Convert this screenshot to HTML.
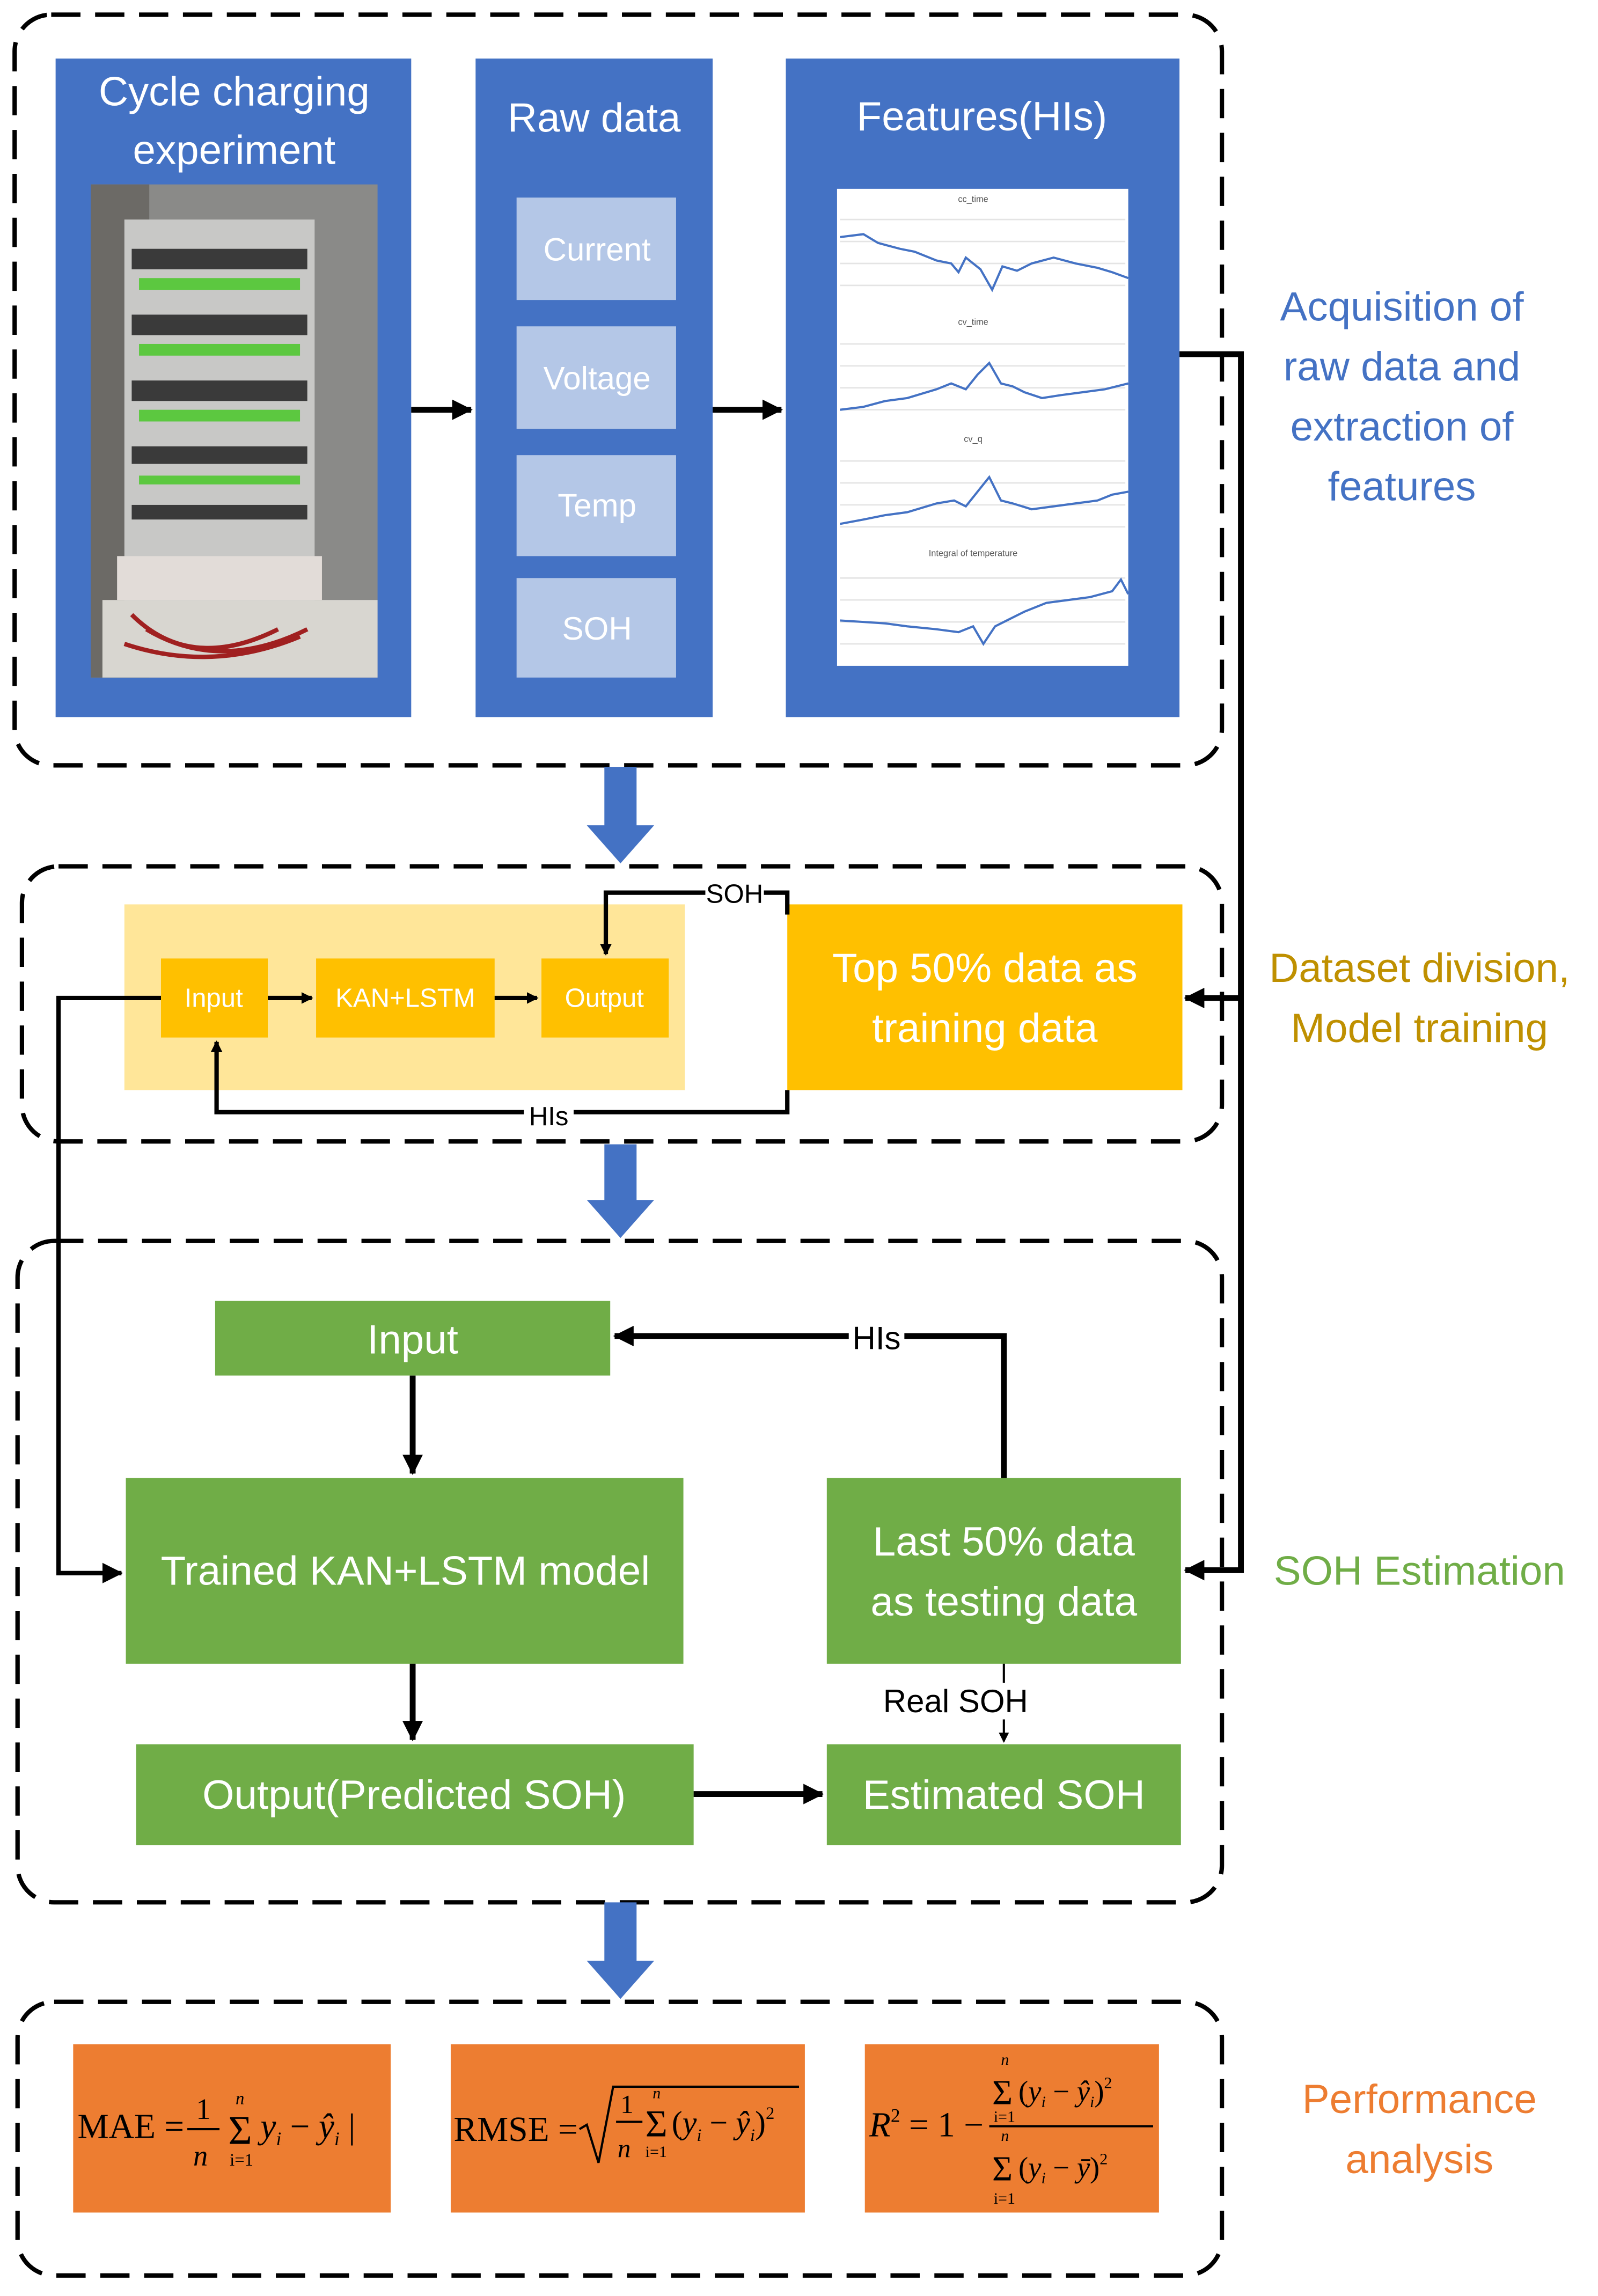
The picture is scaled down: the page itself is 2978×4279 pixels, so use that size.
<!DOCTYPE html>
<html><head><meta charset="utf-8"><style>
html,body{margin:0;padding:0;background:#fff}
svg{display:block}
text{font-family:"Liberation Sans",sans-serif}
.serif text{font-family:"Liberation Serif",serif}
</style></head><body>
<svg width="2978" height="4279" viewBox="0 0 1092 1569" xmlns="http://www.w3.org/2000/svg">
<defs>
<marker id="ah" markerWidth="8" markerHeight="8" refX="7" refY="4" orient="auto" markerUnits="userSpaceOnUse"><path d="M0,0 L8,4 L0,8 Z" fill="#000"/></marker>
<marker id="ab" markerWidth="14" markerHeight="14" refX="13" refY="7" orient="auto" markerUnits="userSpaceOnUse"><path d="M0,0 L14,7 L0,14 Z" fill="#000"/></marker>
<marker id="as" markerWidth="7" markerHeight="7" refX="6" refY="3.5" orient="auto" markerUnits="userSpaceOnUse"><path d="M0,0 L7,3.5 L0,7 Z" fill="#000"/></marker>
</defs>
<g fill="none" stroke="#000" stroke-width="3" stroke-dasharray="20,10">
<rect x="10" y="10" width="825" height="513" rx="25"/>
<rect x="15" y="592" width="820" height="188" rx="25"/>
<rect x="12" y="848" width="823" height="452" rx="25"/>
<rect x="12" y="1368" width="823" height="187" rx="25"/>
</g>
<rect x="38" y="40" width="243" height="450" fill="#4472C4"/>
<rect x="325" y="40" width="162" height="450" fill="#4472C4"/>
<rect x="537" y="40" width="269" height="450" fill="#4472C4"/>
<g fill="#fff" font-size="28" text-anchor="middle">
<text x="160" y="72">Cycle charging</text><text x="160" y="112">experiment</text>
<text x="406" y="90">Raw data</text>
<text x="671" y="89">Features(HIs)</text>
</g>
<rect x="62" y="126" width="196" height="337" fill="#8a8a88"/>
<rect x="62" y="126" width="40" height="337" fill="#6c6a66"/>
<rect x="85" y="150" width="130" height="270" fill="#c8c8c6"/>
<g fill="#3a3a3a"><rect x="90" y="170" width="120" height="14"/><rect x="90" y="215" width="120" height="14"/><rect x="90" y="260" width="120" height="14"/><rect x="90" y="305" width="120" height="12"/><rect x="90" y="345" width="120" height="10"/></g>
<g fill="#5cc840"><rect x="95" y="190" width="110" height="8"/><rect x="95" y="235" width="110" height="8"/><rect x="95" y="280" width="110" height="8"/><rect x="95" y="325" width="110" height="6"/></g>
<rect x="80" y="380" width="140" height="30" fill="#e2dcd8"/>
<rect x="70" y="410" width="188" height="53" fill="#d8d6d0"/>
<path d="M90,420 q40,40 100,10 M100,430 q50,30 110,0 M85,440 q60,20 120,-5" stroke="#a02020" stroke-width="3" fill="none"/>
<g fill="#B4C7E7"><rect x="353" y="135" width="109" height="70"/><rect x="353" y="223" width="109" height="70"/><rect x="353" y="311" width="109" height="69"/><rect x="353" y="395" width="109" height="68"/></g>
<g fill="#fff" font-size="22" text-anchor="middle">
<text x="408" y="178">Current</text><text x="408" y="266">Voltage</text><text x="408" y="353">Temp</text><text x="408" y="437">SOH</text></g>
<rect x="572" y="129" width="199" height="326" fill="#fff"/>
<g stroke="#e4e4e4" stroke-width="1">
<line x1="574" y1="150" x2="769" y2="150"/><line x1="574" y1="165" x2="769" y2="165"/><line x1="574" y1="180" x2="769" y2="180"/><line x1="574" y1="195" x2="769" y2="195"/>
<line x1="574" y1="235" x2="769" y2="235"/><line x1="574" y1="250" x2="769" y2="250"/><line x1="574" y1="265" x2="769" y2="265"/><line x1="574" y1="280" x2="769" y2="280"/>
<line x1="574" y1="315" x2="769" y2="315"/><line x1="574" y1="330" x2="769" y2="330"/><line x1="574" y1="345" x2="769" y2="345"/><line x1="574" y1="360" x2="769" y2="360"/>
<line x1="574" y1="395" x2="769" y2="395"/><line x1="574" y1="410" x2="769" y2="410"/><line x1="574" y1="425" x2="769" y2="425"/><line x1="574" y1="440" x2="769" y2="440"/>
</g>
<g font-size="6" fill="#555" text-anchor="middle"><text x="665" y="138">cc_time</text><text x="665" y="222">cv_time</text><text x="665" y="302">cv_q</text><text x="665" y="380">Integral of temperature</text></g>
<g fill="none" stroke="#4472C4" stroke-width="1.5">
<polyline points="574,162 590,160 600,166 615,170 625,172 640,178 650,180 655,186 660,176 670,184 678,198 685,182 695,185 705,180 720,176 735,180 750,183 760,186 771,190"/>
<polyline points="574,280 590,278 605,274 620,272 640,266 650,262 660,266 668,256 676,248 684,262 692,264 700,268 712,272 725,270 740,268 755,266 771,262"/>
<polyline points="574,358 590,355 605,352 620,350 640,344 652,342 660,346 668,336 676,326 684,342 692,344 705,348 720,346 735,344 750,342 760,338 771,336"/>
<polyline points="574,424 590,425 605,426 620,428 640,430 655,432 665,428 672,440 680,428 688,424 700,418 715,412 730,410 745,408 760,404 766,396 771,406"/>
</g>
<g stroke="#000" stroke-width="4" fill="none">
<line x1="281" y1="280" x2="322" y2="280" marker-end="url(#ab)"/>
<line x1="487" y1="280" x2="534" y2="280" marker-end="url(#ab)"/>
<polyline points="806,242 848,242 848,1073 810,1073" marker-end="url(#ab)"/>
<line x1="848" y1="682" x2="810" y2="682" marker-end="url(#ab)"/>
</g>
<g fill="#4472C4" font-size="28" text-anchor="middle">
<text x="958" y="219">Acquisition of</text><text x="958" y="260">raw data and</text><text x="958" y="301">extraction of</text><text x="958" y="342">features</text></g>
<g fill="#4472C4">
<path d="M413,524 h22 v40 h12 l-23,26 l-23,-26 h12 z"/>
<path d="M413,782 h22 v38 h12 l-23,26 l-23,-26 h12 z"/>
<path d="M413,1300 h22 v40 h12 l-23,26 l-23,-26 h12 z"/>
</g>
<rect x="85" y="618" width="383" height="127" fill="#FFE699"/>
<g fill="#FFC000"><rect x="110" y="655" width="73" height="54"/><rect x="216" y="655" width="122" height="54"/><rect x="370" y="655" width="87" height="54"/><rect x="538" y="618" width="270" height="127"/></g>
<g fill="#fff" font-size="18" text-anchor="middle"><text x="146" y="688">Input</text><text x="277" y="688">KAN+LSTM</text><text x="413" y="688">Output</text></g>
<g fill="#fff" font-size="28" text-anchor="middle"><text x="673" y="671">Top 50% data as</text><text x="673" y="712">training data</text></g>
<g stroke="#000" stroke-width="3" fill="none">
<line x1="183" y1="682" x2="213" y2="682" marker-end="url(#ah)"/>
<line x1="338" y1="682" x2="367" y2="682" marker-end="url(#ah)"/>
<polyline points="538,625 538,610 414,610 414,652" marker-end="url(#ah)"/>
<polyline points="538,745 538,760 148,760 148,712" marker-end="url(#ah)"/>
<polyline points="110,682 40,682 40,1075 83,1075" marker-end="url(#ab)"/>
</g>
<rect x="482" y="600" width="40" height="20" fill="#fff"/><text x="502" y="617" font-size="18" text-anchor="middle">SOH</text>
<rect x="358" y="751" width="34" height="20" fill="#fff"/><text x="375" y="769" font-size="18" text-anchor="middle">HIs</text>
<g fill="#BF9000" font-size="28" text-anchor="middle"><text x="970" y="671">Dataset division,</text><text x="970" y="712">Model training</text></g>
<g fill="#70AD47"><rect x="147" y="889" width="270" height="51"/><rect x="86" y="1010" width="381" height="127"/><rect x="565" y="1010" width="242" height="127"/><rect x="93" y="1192" width="381" height="69"/><rect x="565" y="1192" width="242" height="69"/></g>
<g fill="#fff" font-size="28" text-anchor="middle">
<text x="282" y="925">Input</text><text x="277" y="1083">Trained KAN+LSTM model</text>
<text x="686" y="1063">Last 50% data</text><text x="686" y="1104">as testing data</text>
<text x="283" y="1236">Output(Predicted SOH)</text><text x="686" y="1236">Estimated SOH</text></g>
<g stroke="#000" stroke-width="4" fill="none">
<line x1="282" y1="940" x2="282" y2="1007" marker-end="url(#ab)"/>
<line x1="282" y1="1137" x2="282" y2="1189" marker-end="url(#ab)"/>
<line x1="474" y1="1226" x2="562" y2="1226" marker-end="url(#ab)"/>
<polyline points="686,1010 686,913 420,913" marker-end="url(#ab)"/>
</g>
<line x1="686" y1="1137" x2="686" y2="1190" stroke="#000" stroke-width="1.5" marker-end="url(#as)"/>
<rect x="580" y="902" width="38" height="22" fill="#fff"/><text x="599" y="922" font-size="22" text-anchor="middle">HIs</text>
<rect x="600" y="1150" width="106" height="25" fill="#fff"/><text x="653" y="1170" font-size="22" text-anchor="middle">Real SOH</text>
<text x="970" y="1083" fill="#70AD47" font-size="28" text-anchor="middle">SOH Estimation</text>
<g fill="#ED7D31"><rect x="50" y="1397" width="217" height="115"/><rect x="308" y="1397" width="242" height="115"/><rect x="591" y="1397" width="201" height="115"/></g>
<g class="serif" fill="#000" font-size="24">
<text x="53" y="1461">MAE =</text>
<line x1="128" y1="1455" x2="150" y2="1455" stroke="#000" stroke-width="1.5"/>
<text x="134" y="1448" font-size="20">1</text><text x="132" y="1480" font-size="20" font-style="italic">n</text>
<text x="156" y="1465" font-size="28">Σ</text><text x="161" y="1438" font-size="12" font-style="italic">n</text><text x="157" y="1480" font-size="12">i=1</text>
<text x="178" y="1461"><tspan font-style="italic">y<tspan font-size="13" dy="5">i</tspan></tspan><tspan dy="-5"> − </tspan><tspan font-style="italic">ŷ<tspan font-size="13" dy="5">i</tspan></tspan><tspan dy="-5"> |</tspan></text>
<text x="310" y="1463">RMSE =</text>
<path d="M396,1455 l5,-3 l8,26 l10,-52 h127" stroke="#000" stroke-width="1.5" fill="none"/>
<line x1="421" y1="1450" x2="439" y2="1450" stroke="#000" stroke-width="1.5"/>
<text x="424" y="1444" font-size="18">1</text><text x="422" y="1474" font-size="18" font-style="italic">n</text>
<text x="441" y="1460" font-size="26">Σ</text><text x="446" y="1434" font-size="11" font-style="italic">n</text><text x="441" y="1474" font-size="11">i=1</text>
<text x="459" y="1458" font-size="22">(<tspan font-style="italic">y<tspan font-size="12" dy="5">i</tspan></tspan><tspan dy="-5"> − </tspan><tspan font-style="italic">ŷ<tspan font-size="12" dy="5">i</tspan></tspan><tspan dy="-5">)</tspan><tspan font-size="12" dy="-10">2</tspan></text>
<text x="594" y="1460" font-style="italic">R<tspan font-style="normal" font-size="13" dy="-10">2</tspan><tspan font-style="normal" dy="10"> = 1 −</tspan></text>
<line x1="676" y1="1453" x2="788" y2="1453" stroke="#000" stroke-width="1.5"/>
<text x="678" y="1438" font-size="24">Σ</text><text x="684" y="1411" font-size="11" font-style="italic">n</text><text x="679" y="1450" font-size="11">i=1</text>
<text x="696" y="1436" font-size="20">(<tspan font-style="italic">y<tspan font-size="11" dy="4">i</tspan></tspan><tspan dy="-4"> − </tspan><tspan font-style="italic">ŷ<tspan font-size="11" dy="4">i</tspan></tspan><tspan dy="-4">)</tspan><tspan font-size="11" dy="-9">2</tspan></text>
<text x="678" y="1490" font-size="24">Σ</text><text x="684" y="1463" font-size="11" font-style="italic">n</text><text x="679" y="1506" font-size="11">i=1</text>
<text x="696" y="1488" font-size="20">(<tspan font-style="italic">y<tspan font-size="11" dy="4">i</tspan></tspan><tspan dy="-4"> − </tspan><tspan font-style="italic">ȳ</tspan>)<tspan font-size="11" dy="-9">2</tspan></text>
</g>
<g fill="#ED7D31" font-size="28" text-anchor="middle"><text x="970" y="1444">Performance</text><text x="970" y="1485">analysis</text></g>
</svg>
</body></html>
